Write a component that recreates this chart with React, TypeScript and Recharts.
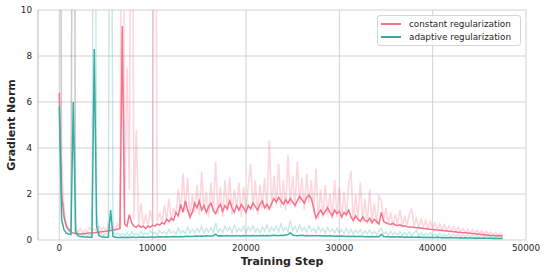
import { ComposedChart, Line, XAxis, YAxis, CartesianGrid } from 'recharts';

// logged every 250 training steps
const LOG_EVERY = 250;

const constSmooth = [
  6.4, 2.0, 1.0, 0.6, 0.45, 0.35, 0.3, 0.28, 0.27, 0.26,
  0.27, 0.28, 0.29, 0.3, 0.31, 0.32, 0.33, 0.34, 0.36, 0.37,
  0.38, 0.4, 0.41, 0.43, 0.45, 0.47, 0.5, 9.3, 0.7, 0.6,
  1.1, 0.75, 0.6, 0.55, 0.65, 0.55, 0.6, 0.5, 0.6, 0.55,
  0.65, 0.6, 0.7, 0.65, 0.75, 0.7, 0.9, 0.8, 0.95, 0.85,
  1.2, 1.05, 1.55, 1.2, 1.7, 1.3, 1.0, 1.2, 1.6, 1.4,
  1.7, 1.3, 1.5, 1.2, 1.45, 1.6, 1.3, 1.15, 1.4, 1.55,
  1.25, 1.5, 1.35, 1.7, 1.4, 1.2, 1.5, 1.3, 1.55, 1.4,
  1.2, 1.5, 1.35, 1.6, 1.45, 1.3, 1.55, 1.7, 1.4, 1.55,
  1.35, 1.6, 1.8, 1.65, 1.85, 1.7, 1.55, 1.75, 1.6, 1.8,
  1.65, 1.5, 1.7, 1.9, 1.75, 1.6, 1.85, 1.95, 1.8, 1.4,
  0.95, 1.15, 1.3, 1.1, 1.25, 1.4, 1.2, 1.05, 1.3, 1.15,
  1.25, 1.0, 1.2, 1.1, 1.3, 1.0, 0.85, 1.05, 0.9, 0.8,
  1.0, 0.85, 0.8, 0.95, 0.75, 0.9, 0.8, 0.7, 1.2, 0.8,
  0.75, 0.7, 0.68, 0.72, 0.65, 0.63, 0.66, 0.6, 0.62, 0.58,
  0.57, 0.56, 0.55, 0.53, 0.54, 0.52, 0.5, 0.49, 0.48, 0.47,
  0.46, 0.45, 0.43, 0.42, 0.41, 0.4, 0.39, 0.38, 0.37, 0.36,
  0.35, 0.34, 0.33, 0.32, 0.31, 0.3, 0.29, 0.28, 0.27, 0.26,
  0.25, 0.24, 0.23, 0.22, 0.21, 0.2, 0.2, 0.19, 0.18, 0.18,
  0.17,
];

const constRaw = [
  30, 3.5, 1.2, 0.7, 0.5, 0.45, 30, 0.4, 0.35, 0.5,
  0.3, 0.45, 0.35, 0.55, 0.4, 0.5, 0.38, 0.6, 0.45, 0.55,
  0.4, 0.65, 0.5, 0.6, 0.45, 0.7, 0.55, 30, 1.4, 7.5,
  2.2, 25, 0.9, 4.8, 0.7, 1.6, 0.6, 1.1, 0.55, 1.3,
  0.7, 25, 0.8, 1.2, 0.75, 1.5, 0.9, 1.8, 0.8, 1.4,
  1.1, 2.2, 1.2, 2.9, 1.3, 2.7, 0.9, 2.0, 1.2, 2.4,
  1.1, 2.97, 1.3, 2.1, 1.0, 2.5, 1.2, 3.4, 1.1, 2.3,
  1.0, 2.6, 1.3, 2.75, 1.1, 2.2, 1.4, 2.5, 1.0, 2.3,
  1.2, 2.4, 3.3, 1.3, 2.6, 1.1, 2.4, 1.4, 2.7, 1.3,
  4.35, 1.4, 2.8, 1.5, 3.3, 1.4, 2.6, 1.3, 3.7, 1.5,
  2.8, 1.4, 3.4, 1.6, 2.7, 1.3, 2.9, 1.6, 2.6, 1.2,
  3.1, 0.9, 2.2, 1.0, 2.4, 1.1, 2.0, 0.9, 2.6, 1.0,
  2.3, 0.9, 2.1, 1.0, 2.4, 3.0, 0.8, 2.0, 0.9, 2.5,
  0.8, 1.8, 0.7, 2.2, 0.8, 1.6, 0.7, 1.9, 1.7, 0.8,
  1.4, 0.7, 1.2, 0.6, 1.1, 0.7, 1.3, 0.6, 1.0, 0.65,
  1.1, 1.38, 0.6, 0.95, 0.55, 0.9, 0.55, 0.85, 0.5, 0.8,
  0.5, 0.75, 0.45, 0.7, 0.45, 0.65, 0.4, 0.6, 0.4, 0.58,
  0.38, 0.55, 0.35, 0.5, 0.33, 0.48, 0.3, 0.45, 0.3, 0.42,
  0.28, 0.4, 0.26, 0.38, 0.25, 0.35, 0.23, 0.32, 0.22, 0.3,
  0.2,
];

const adaptSmooth = [
  5.8, 0.9, 0.45, 0.3, 0.26, 0.24, 6.0, 0.35, 0.18, 0.15,
  0.14, 0.13, 0.13, 0.12, 0.12, 8.3, 0.6, 0.2, 0.14, 0.13,
  0.12, 0.12, 1.3, 0.15, 0.12, 0.11, 0.11, 0.12, 0.11, 0.12,
  0.11, 0.12, 0.12, 0.11, 0.12, 0.12, 0.13, 0.12, 0.12, 0.13,
  0.13, 0.12, 0.13, 0.14, 0.13, 0.13, 0.14, 0.13, 0.14, 0.15,
  0.14, 0.14, 0.15, 0.14, 0.15, 0.16, 0.15, 0.15, 0.16, 0.17,
  0.16, 0.17, 0.16, 0.18, 0.17, 0.17, 0.18, 0.25, 0.17, 0.18,
  0.17, 0.18, 0.19, 0.18, 0.17, 0.18, 0.19, 0.18, 0.17, 0.19,
  0.18, 0.19, 0.18, 0.2, 0.19, 0.18, 0.19, 0.2, 0.19, 0.2,
  0.19, 0.2, 0.21, 0.2, 0.19, 0.21, 0.2, 0.22, 0.24, 0.32,
  0.22, 0.2, 0.19, 0.2, 0.21, 0.19, 0.2, 0.19, 0.18, 0.19,
  0.18, 0.19, 0.18, 0.17, 0.18, 0.17, 0.18, 0.17, 0.16, 0.17,
  0.16, 0.17, 0.16, 0.15, 0.16, 0.15, 0.16, 0.15, 0.15, 0.16,
  0.15, 0.14, 0.15, 0.14, 0.15, 0.14, 0.15, 0.14, 0.25, 0.15,
  0.14, 0.14, 0.13, 0.14, 0.13, 0.13, 0.14, 0.13, 0.12, 0.13,
  0.12, 0.13, 0.12, 0.12, 0.13, 0.12, 0.11, 0.12, 0.11, 0.12,
  0.11, 0.11, 0.12, 0.11, 0.1, 0.11, 0.1, 0.11, 0.1, 0.1,
  0.1, 0.09, 0.1, 0.09, 0.1, 0.09, 0.09, 0.09, 0.08, 0.09,
  0.08, 0.08, 0.09, 0.08, 0.08, 0.08, 0.07, 0.08, 0.07, 0.07,
  0.07,
];

const adaptRaw = [
  30, 1.8, 1.4, 0.6, 0.4, 0.35, 30, 0.6, 0.3, 0.25,
  0.2, 0.28, 0.18, 0.25, 0.2, 30, 1.2, 0.3, 0.25, 0.2,
  0.28, 0.18, 30, 0.4, 0.22, 0.3, 0.2, 0.28, 0.2, 0.32,
  0.18, 0.35, 0.22, 0.3, 0.2, 0.38, 0.25, 0.3, 0.22, 0.4,
  0.26, 0.34, 0.2, 0.42, 0.28, 0.36, 0.24, 0.45, 0.3, 0.38,
  0.25, 0.5, 0.3, 0.4, 0.28, 0.55, 0.3, 0.45, 0.32, 0.5,
  0.35, 0.6, 0.3, 0.5, 0.35, 0.55, 0.3, 0.75, 0.35, 0.5,
  0.32, 0.6, 0.4, 0.55, 0.3, 0.65, 0.35, 0.5, 0.38, 0.6,
  0.32, 0.55, 0.4, 0.62, 0.35, 0.5, 0.3, 0.58, 0.38, 0.66,
  0.35, 0.55, 0.4, 0.6, 0.36, 0.7, 0.4, 0.55, 0.38, 0.85,
  0.4, 0.6, 0.35, 0.65, 0.4, 0.55, 0.35, 0.62, 0.38, 0.5,
  0.32, 0.58, 0.36, 0.5, 0.3, 0.55, 0.34, 0.48, 0.3, 0.52,
  0.32, 0.45, 0.28, 0.5, 0.3, 0.46, 0.26, 0.42, 0.3, 0.45,
  0.25, 0.4, 0.28, 0.44, 0.26, 0.38, 0.24, 0.4, 0.5, 0.26,
  0.36, 0.22, 0.38, 0.24, 0.34, 0.22, 0.36, 0.2, 0.32, 0.22,
  0.35, 0.2, 0.3, 0.42, 0.2, 0.3, 0.18, 0.28, 0.2, 0.32,
  0.18, 0.26, 0.17, 0.28, 0.16, 0.25, 0.17, 0.27, 0.15, 0.24,
  0.16, 0.26, 0.14, 0.22, 0.15, 0.24, 0.13, 0.2, 0.14, 0.22,
  0.12, 0.19, 0.13, 0.2, 0.12, 0.18, 0.11, 0.17, 0.12, 0.15,
  0.1,
];

const xTicks = [0, 10000, 20000, 30000, 40000, 50000];
const yTicks = [0, 2, 4, 6, 8, 10];
const seriesNames = ['constant regularization', 'adaptive regularization'];

const PINK = '#f77189';
const TEAL = '#36ada4';
const GRID = '#cccccc';
const TEXT = '#262626';
const FONT = '"DejaVu Sans", sans-serif';

const rows = constSmooth.map((v, i) => ({
  step: i * LOG_EVERY,
  constSmooth: v,
  constRaw: constRaw[i],
  adaptSmooth: adaptSmooth[i],
  adaptRaw: adaptRaw[i],
}));

function LegendBox() {
  const colors = [PINK, TEAL];
  return (
    <div
      style={{
        position: 'absolute',
        left: 377,
        top: 15,
        width: 144,
        height: 31,
        border: '1px solid #d6d6d6',
        borderRadius: 3,
        background: 'rgba(255,255,255,0.85)',
        fontFamily: FONT,
        fontSize: 8.8,
        color: TEXT,
        boxSizing: 'border-box',
        paddingTop: 1,
      }}
    >
      {seriesNames.map((name, i) => (
        <div key={name} style={{ display: 'flex', alignItems: 'center', height: 13.5 }}>
          <div style={{ width: 20, height: 1.6, background: colors[i], marginLeft: 3, marginRight: 8 }} />
          <span style={{ whiteSpace: 'nowrap' }}>{name}</span>
        </div>
      ))}
    </div>
  );
}

export default function App() {
  const tickStyle = { fontSize: 8.8, fill: TEXT, fontFamily: FONT };
  return (
    <div style={{ position: 'absolute', left: 0, top: 0, width: 548, height: 274, background: '#fff' }}>
      <ComposedChart
        width={548}
        height={274}
        data={rows}
        margin={{ top: 10, right: 22, bottom: 0, left: 0 }}
      >
        <CartesianGrid stroke={GRID} strokeWidth={0.9} />
        <XAxis
          dataKey="step"
          type="number"
          domain={[-2280, 50000]}
          ticks={xTicks}
          allowDataOverflow
          height={34}
          tickLine={false}
          axisLine={false}
          tickSize={3}
          tickMargin={2}
          tick={tickStyle}
          label={{
            content: () => (
              <text x={282} y={264.5} textAnchor="middle" fontFamily={FONT} fontSize={11} fontWeight="bold" fill={TEXT}>
                Training Step
              </text>
            ),
          }}
        />
        <YAxis
          type="number"
          domain={[0, 10]}
          ticks={yTicks}
          allowDataOverflow
          width={38}
          tickLine={false}
          axisLine={{ stroke: GRID, strokeWidth: 0.9 }}
          tickSize={3}
          tickMargin={3}
          tick={tickStyle}
          label={{
            content: () => (
              <text
                x={15}
                y={125}
                textAnchor="middle"
                fontFamily={FONT}
                fontSize={11}
                fontWeight="bold"
                fill={TEXT}
                transform="rotate(-90 15 125)"
              >
                Gradient Norm
              </text>
            ),
          }}
        />
        <Line dataKey="constRaw" stroke={PINK} strokeOpacity={0.28} strokeWidth={1.6} dot={false} activeDot={false} isAnimationActive={false} />
        <Line dataKey="constSmooth" stroke={PINK} strokeWidth={1.5} dot={false} activeDot={false} isAnimationActive={false} />
        <Line dataKey="adaptRaw" stroke={TEAL} strokeOpacity={0.28} strokeWidth={1.4} dot={false} activeDot={false} isAnimationActive={false} />
        <Line dataKey="adaptSmooth" stroke={TEAL} strokeWidth={1.5} dot={false} activeDot={false} isAnimationActive={false} />
      </ComposedChart>
      <LegendBox />
    </div>
  );
}
